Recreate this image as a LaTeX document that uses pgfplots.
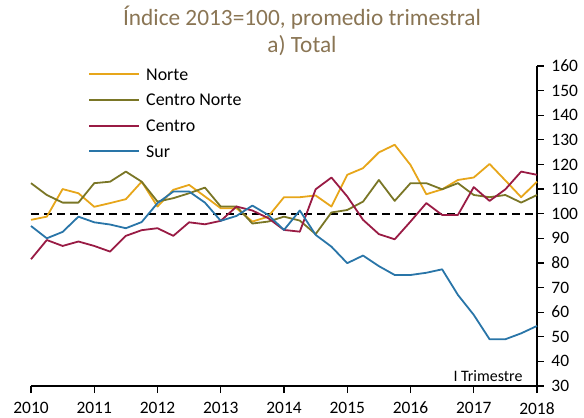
\documentclass[border=0pt]{standalone}
\usepackage{fontspec}
\setmainfont{Carlito}
\usepackage{pgfplots}
\usepackage{pgfplotstable}
\pgfplotsset{compat=1.18}

\definecolor{cnorte}{RGB}{231,166,26}
\definecolor{ccnorte}{RGB}{122,118,38}
\definecolor{ccentro}{RGB}{153,27,68}
\definecolor{csur}{RGB}{41,117,168}
\definecolor{ctitulo}{RGB}{138,117,84}

% indice 2013=100, promedio trimestral
\pgfplotstableread{
x       norte  cnorte centro sur
2010.00  97.5  112.4  81.5   95.0
2010.25  98.8  107.6  89.3   90.0
2010.50 110.0  104.5  86.9   92.6
2010.75 108.3  104.5  88.7   98.8
2011.00 102.8  112.4  86.9   96.5
2011.25 104.3  113.0  84.6   95.6
2011.50 105.9  117.1  91.0   94.1
2011.75 113.0  113.0  93.3   96.6
2012.00 102.9  104.9  94.1  104.3
2012.25 109.7  106.3  91.0  109.0
2012.50 111.7  108.3  96.5  109.0
2012.75 107.0  110.6  95.7  104.5
2013.00 102.2  102.9  97.1   97.1
2013.25 102.2  102.9 102.9   99.1
2013.50  96.8   96.0 101.3  103.3
2013.75  98.8   96.8  98.2   99.5
2014.00 106.7   98.8  93.4   93.4
2014.25 106.7   97.2  92.7  101.3
2014.50 107.4   91.7 109.9   91.4
2014.75 102.9  100.5 114.7   86.6
2015.00 115.8  101.5 107.0   79.9
2015.25 118.5  104.9  97.5   83.0
2015.50 124.9  113.7  91.7   78.7
2015.75 128.0  105.2  89.6   75.1
2016.00 119.8  112.4  96.8   75.1
2016.25 107.9  112.4 104.3   76.0
2016.50 109.9  109.9  99.5   77.4
2016.75 113.7  112.4  99.5   67.0
2017.00 114.7  107.6 110.8   58.9
2017.25 120.2  106.7 105.2   49.0
2017.50 113.5  107.6 109.9   49.0
2017.75 106.7  104.5 117.1   51.4
2018.00 113.0  107.6 115.8   54.4
}\datos

\begin{document}
\begin{tikzpicture}
\useasboundingbox (-31bp,-32bp) rectangle (553bp,386bp);
\begin{axis}[
    at={(0,0)}, anchor=south west,
    scale only axis,
    width=506bp, height=320bp,
    xmin=2010, xmax=2018,
    ymin=30, ymax=160,
    axis x line=bottom, axis y line=right,
    axis line style={-, line width=1.5bp, black},
    xtick={2010,2011,...,2018},
    xticklabels={2010,2011,2012,2013,2014,2015,2016,2017,2018},
    ytick={30,40,...,160},
    tick align=outside,
    major tick length=7bp,
    tick style={line width=1.3bp, black},
    ticklabel style={font=\fontsize{17.5}{21}\selectfont, black},
    /pgf/number format/assume math mode=true,
    xticklabel style={anchor=north, inner sep=0pt, yshift=-9bp},
    yticklabel style={anchor=west, xshift=4bp},
    clip=false,
    legend cell align=left,
    legend image code/.code={\draw[#1] (0bp,0bp) -- (50bp,0bp); \path (56bp,0bp);},
    legend image post style={line width=2bp},
    legend style={draw=none, fill=none, at={(57bp,318bp)}, anchor=north west,
        inner sep=0pt, row sep=13.7bp,
        font=\fontsize{18}{21}\selectfont,
        nodes={inner sep=0pt, text height=12bp, text depth=0pt}},
    every axis plot/.append style={line width=1.8bp, line join=round},
]
\addplot[black, line width=1.8bp, dash pattern=on 8bp off 5bp, forget plot]
    coordinates {(2010,100) (2018,100)};
\addplot[cnorte] table[x=x, y=norte] {\datos};
\addplot[ccnorte] table[x=x, y=cnorte] {\datos};
\addplot[ccentro] table[x=x, y=centro] {\datos};
\addplot[csur] table[x=x, y=sur] {\datos};
\legend{Norte, Centro Norte, Centro, Sur}
\node[anchor=base east, font=\fontsize{16}{19}\selectfont, xshift=-11bp, yshift=5bp]
    at (axis cs:2018,30) {I Trimestre};
\end{axis}
\node[anchor=base, font=\fontsize{23.4}{27}\selectfont, text=ctitulo]
    at (271bp,360bp) {Índice 2013=100, promedio trimestral};
\node[anchor=base, font=\fontsize{23.4}{27}\selectfont, text=ctitulo]
    at (271bp,333bp) {a) Total};
\end{tikzpicture}
\end{document}
